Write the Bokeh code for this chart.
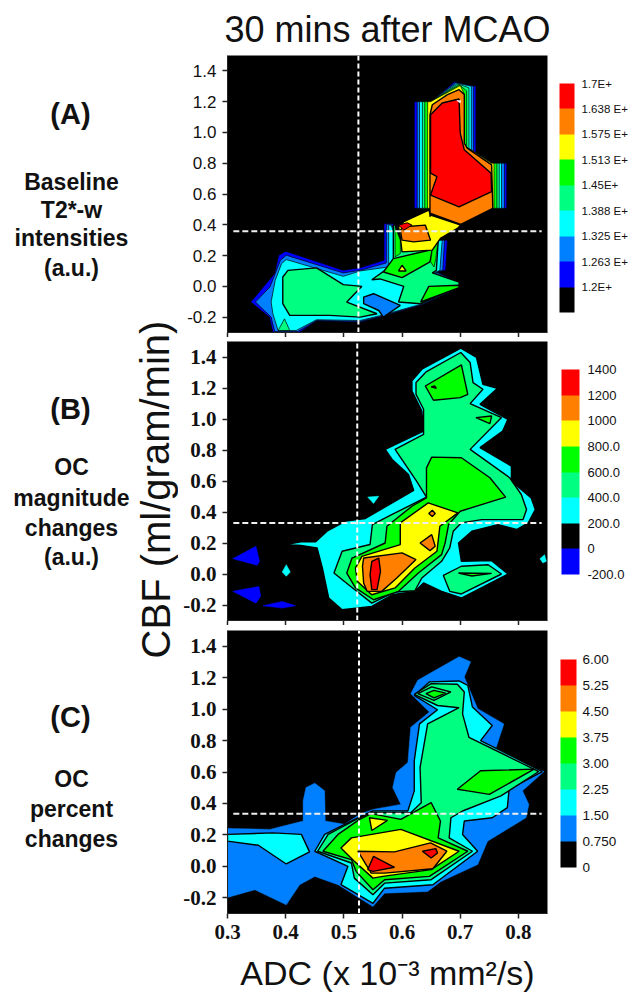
from bokeh.plotting import figure
from bokeh.models import Range1d, Label, ColorBar, LinearColorMapper, FixedTicker, AllLabels, Title
from bokeh.layouts import row, column
from bokeh.embed import file_html
from bokeh.resources import INLINE

BLACK, BLUE, MID, CYAN, SEA, GREEN, YELLOW, ORANGE, RED = (
    "#000000", "#0000ff", "#0080ff", "#00ffff", "#00ff80", "#00ff00", "#ffff00", "#ff8000", "#ff0000")

Y_TICKS = [-0.2, 0.0, 0.2, 0.4, 0.6, 0.8, 1.0, 1.2, 1.4]
X_TICKS = [0.3, 0.4, 0.5, 0.6, 0.7, 0.8]
Y_LABELS = ["-0.2", "0.0", "0.2", "0.4", "0.6", "0.8", "1.0", "1.2", "1.4"]
X_LABELS = ["0.3", "0.4", "0.5", "0.6", "0.7", "0.8"]

CB_A_TICKS = [1.2, 1.2625, 1.325, 1.3875, 1.45, 1.5125, 1.575, 1.6375, 1.7]
CB_A_LABELS = ["1.2E+", "1.263 E+", "1.325 E+", "1.388 E+", "1.45E+", "1.513 E+", "1.575 E+", "1.638 E+", "1.7E+"]
CB_B_TICKS = [-200, 0, 200, 400, 600, 800, 1000, 1200, 1400]
CB_B_LABELS = ["-200.0", "0", "200.0", "400.0", "600.0", "800.0", "1000", "1200", "1400"]
CB_C_TICKS = [0.0, 0.75, 1.5, 2.25, 3.0, 3.75, 4.5, 5.25, 6.0]
CB_C_LABELS = ["0", "0.750", "1.50", "2.25", "3.00", "3.75", "4.50", "5.25", "6.00"]

# ---- Panel A contours (ADC, CBF) ----
A_low_blue = [(.340,-.102),(.381,.083),(.388,.202),(.400,.228),(.499,.104),(.528,.120),(.569,.170),(.569,.409),(.585,.409),(.600,.300),(.678,.300),(.675,.104),(.660,.093),(.698,.028),(.698,-.009),(.632,-.124),(.562,-.200),(.528,-.233),(.453,-.226),(.424,-.298),(.378,-.298),(.372,-.200)]
A_low_mid = [(.348,-.102),(.373,-.004),(.391,.170),(.401,.202),(.499,.087),(.528,.104),(.573,.152),(.573,.404),(.582,.404),(.596,.289),(.673,.300),(.670,.104),(.658,.093),(.698,.024),(.698,-.007),(.632,-.122),(.562,-.196),(.528,-.228),(.453,-.222),(.421,-.293),(.381,-.293),(.375,-.200)]
A_low_cyan = [(.375,-.102),(.382,.039),(.393,.148),(.401,.174),(.499,.065),(.528,.100),(.577,.126),(.577,.398),(.581,.398),(.594,.278),(.669,.300),(.665,.104),(.655,.087),(.698,.020),(.698,-.004),(.632,-.117),(.562,-.191),(.528,-.222),(.453,-.217),(.418,-.287),(.387,-.287),(.378,-.178)]
A_sea_right = [(.548,.043),(.585,.143),(.585,.398),(.588,.398),(.600,.278),(.662,.289),(.659,.104),(.652,.087),(.698,.028),(.698,0),(.632,-.113),(.594,-.102),(.603,0),(.562,.048)]
A_sea_left = [(.395,.061),(.404,.104),(.453,.120),(.499,.011),(.531,0),(.505,-.102),(.557,-.178),(.528,-.2),(.476,-.189),(.407,-.189),(.395,-.113)]
A_sea_foot = [(.387,-.287),(.398,-.211),(.407,-.287)]
A_green_right = [(.632,-.102),(.646,0),(.698,.007),(.698,-.009)]
A_green_mid = [(.568,.093),(.585,.180),(.652,.239),(.648,.159),(.600,.057)]
A_green_strip = [(.588,.387),(.597,.300),(.597,.213),(.588,.192)]
A_green_strip2 = [(.662,.300),(.652,.239),(.649,.159),(.655,.126),(.658,.180)]
A_yellow_dot = [(.594,.100),(.6,.137),(.607,.100)]
A_mid_blob = [(.534,-.07),(.551,-.048),(.597,-.124),(.568,-.2),(.56,-.157),(.534,-.113)]
A_up_blue = [(.621,.507),(.621,1.2),(.649,1.2),(.690,1.33),(.727,1.3),(.727,.865),(.754,.80),(.780,.80),(.780,.507)]
A_up_mid = [(.626,.507),(.626,1.2),(.649,1.2),(.692,1.325),(.723,1.3),(.723,.875),(.754,.80),(.776,.80),(.776,.507)]
A_up_cyan = [(.630,.507),(.630,1.2),(.649,1.2),(.694,1.32),(.719,1.3),(.719,.884),(.754,.80),(.771,.80),(.771,.507)]
A_up_sea = [(.635,.507),(.635,1.2),(.649,1.2),(.696,1.315),(.715,1.29),(.715,.894),(.754,.80),(.767,.80),(.767,.507)]
A_up_green = [(.639,.507),(.639,1.2),(.649,1.2),(.698,1.31),(.711,1.27),(.711,.903),(.754,.80),(.763,.80),(.763,.507)]
A_up_yellow = [(.644,.507),(.644,1.2),(.649,1.2),(.700,1.305),(.707,1.25),(.707,.913),(.754,.80),(.758,.80),(.758,.507)]
A_mid_yellow = [(.603,.420),(.646,.496),(.649,.463),(.701,.398),(.695,.376),(.666,.311),(.652,.235),(.600,.224),(.597,.322),(.594,.387)]
A_mid_orange = [(.597,.365),(.603,.387),(.640,.398),(.649,.300),(.620,.289),(.600,.300)]
A_mid_red = [(.594,.398),(.609,.413),(.617,.398),(.603,.365)]
A_orange = [(.648,.452),(.648,1.115),(.652,1.18),(.678,1.246),(.698,1.278),(.707,1.246),(.707,.93),(.712,.898),(.754,.789),(.756,.507),(.701,.402),(.649,.474)]
A_red = [(.649,.593),(.660,.713),(.649,.735),(.649,1.115),(.669,1.191),(.698,1.217),(.700,.996),(.707,.887),(.753,.735),(.754,.615),(.698,.517)]
A_white = [(.694,1.207),(.701,1.207),(.700,1.191)]
A_LAYERS = [(A_low_blue,BLUE,.7),(A_low_mid,MID,.7),(A_low_cyan,CYAN,.7),(A_sea_right,SEA,1.4),(A_sea_left,SEA,1.4),(A_sea_foot,SEA,.7),
            (A_green_right,GREEN,1.4),(A_green_mid,GREEN,1.4),(A_green_strip,GREEN,.7),(A_green_strip2,GREEN,.7),(A_yellow_dot,YELLOW,1.4),(A_mid_blob,MID,1.4),
            (A_up_blue,BLUE,.7),(A_up_mid,MID,.7),(A_up_cyan,CYAN,.7),(A_up_sea,SEA,.7),(A_up_green,GREEN,.7),(A_up_yellow,YELLOW,.7),
            (A_mid_yellow,YELLOW,1.4),(A_mid_orange,ORANGE,1.4),(A_mid_red,RED,1),(A_orange,ORANGE,1.4),(A_red,RED,1.4),(A_white,"#ffffff",0)]

# ---- Panel B contours ----
B_cyan = [(.4,.19),(.426,.207),(.451,.207),(.471,.276),(.503,.341),(.537,.358),(.583,.459),(.620,.539),(.611,.642),(.583,.739),(.571,.804),(.637,.922),(.634,1.052),(.617,1.181),(.617,1.246),(.634,1.321),(.701,1.457),(.728,1.397),(.739,1.224),(.764,1.198),(.734,1.095),(.782,.998),(.773,.922),(.734,.815),(.788,.696),(.788,.599),(.822,.491),(.829,.416),(.817,.330),(.797,.287),(.765,.319),(.72,.276),(.697,.2),(.702,.082),(.754,.086),(.782,0),(.702,-.155),(.668,-.112),(.637,-.058),(.622,-.112),(.583,-.134),(.548,-.209),(.497,-.231),(.474,-.155),(.463,.039),(.454,.168),(.426,.185)]
B_sea = [(.483,.006),(.497,.147),(.545,.19),(.549,.319),(.583,.384),(.642,.496),(.625,.599),(.588,.804),(.637,.901),(.637,1.063),(.624,1.159),(.624,1.235),(.642,1.306),(.701,1.429),(.717,1.364),(.722,1.235),(.739,1.192),(.717,1.099),(.771,1.009),(.717,.804),(.785,.621),(.805,.513),(.814,.416),(.808,.351),(.737,.351),(.702,.330),(.688,.276),(.682,.168),(.668,.082),(.634,-.026),(.622,-.108),(.588,-.116),(.548,-.188),(.508,-.069)]
B_sea_blob = [(.671,-.009),(.702,.05),(.748,.06),(.771,0),(.702,-.129),(.682,-.112)]
B_green_sliver = [(.697,.006),(.754,.004),(.72,-.013)]
B_green = [(.505,.006),(.514,.103),(.571,.2),(.574,.308),(.617,.437),(.642,.491),(.642,.685),(.651,.754),(.702,.75),(.751,.621),(.778,.496),(.700,.405),(.680,.319),(.674,.200),(.668,.125),(.628,.006),(.594,-.112),(.551,-.166),(.520,-.09)]
B_yellow = [(.520,.039),(.531,.114),(.597,.19),(.597,.33),(.645,.459),(.696,.394),(.665,.308),(.660,.147),(.622,.039),(.588,-.09),(.548,-.134),(.523,-.047)]
B_orange = [(.532,.05),(.534,.103),(.6,.136),(.624,.093),(.591,-.026),(.565,-.112),(.540,-.112),(.534,-.058)]
B_red = [(.548,.082),(.56,.103),(.563,.017),(.557,-.101),(.548,-.101),(.545,-.004)]
B_orange2 = [(.631,.2),(.651,.254),(.657,.179),(.648,.151)]
B_orange3 = [(.646,.39),(.652,.412),(.657,.39),(.652,.371)]
B_green_top = [(.640,1.213),(.702,1.349),(.713,1.159),(.7,1.138),(.654,1.121)]
B_top_dot = [(.650,1.207),(.656,1.213),(.659,1.198)]
B_green_small = [(.727,1.009),(.754,1.019),(.751,.970)]
B_cyan_a = [(.541,.496),(.56,.502),(.551,.455)]
B_cyan_b = [(.394,.013),(.401,.06),(.408,.013),(.401,-.015)]
B_cyan_c = [(.837,.099),(.845,.125),(.848,.082),(.842,.071)]
B_blue_a = [(.309,.099),(.349,.179),(.355,.082),(.351,.056)]
B_blue_b = [(.309,-.112),(.354,-.08),(.357,-.144),(.349,-.188)]
B_blue_c = [(.361,-.205),(.394,-.177),(.417,-.205),(.394,-.22)]
B_LAYERS = [(B_cyan,CYAN,1.4),(B_sea,SEA,1.4),(B_sea_blob,SEA,1.4),(B_green_sliver,GREEN,1.4),(B_green,GREEN,1.4),(B_yellow,YELLOW,1.4),(B_orange,ORANGE,1.4),(B_red,RED,1.4),
            (B_orange2,ORANGE,1.4),(B_orange3,ORANGE,1.4),(B_green_top,GREEN,1.4),(B_top_dot,YELLOW,1.4),(B_green_small,GREEN,1.4),(B_cyan_a,CYAN,0),(B_cyan_b,CYAN,0),(B_cyan_c,CYAN,0),
            (B_blue_a,BLUE,0),(B_blue_b,BLUE,0),(B_blue_c,BLUE,0)]

# ---- Panel C contours ----
C_mid = [(.3,.241),(.373,.235),(.430,.288),(.430,.416),(.435,.501),(.45,.529),(.467,.48),(.468,.288),(.501,.267),(.527,.33),(.55,.362),(.598,.394),(.584,.501),(.59,.597),(.61,.661),(.615,.885),(.647,.981),(.615,1.098),(.627,1.183),(.698,1.333),(.718,1.301),(.707,1.205),(.73,1.002),(.775,.906),(.758,.714),(.844,.603),(.807,.48),(.818,.394),(.813,.309),(.747,.16),(.73,.011),(.667,-.096),(.644,-.16),(.57,-.171),(.55,-.256),(.49,-.117),(.45,-.064),(.424,-.117),(.401,-.245),(.347,-.149),(.3,-.198)]
C_cyan_left = [(.3,.203),(.378,.213),(.427,.203),(.441,.092),(.401,.015),(.353,.134),(.3,.16)]
C_cyan = [(.45,.096),(.467,.203),(.524,.309),(.55,.352),(.61,.352),(.621,.48),(.621,.672),(.63,.906),(.661,.996),(.621,1.087),(.647,1.173),(.698,1.179),(.713,1.151),(.721,1.013),(.755,.896),(.735,.8),(.841,.603),(.784,.49),(.781,.373),(.755,.309),(.707,.288),(.704,.203),(.73,.096),(.653,-.117),(.57,-.139),(.55,-.235),(.495,-.117),(.507,0)]
C_sea = [(.455,.096),(.473,.203),(.527,.309),(.547,.341),(.615,.341),(.633,.405),(.631,.629),(.644,.906),(.698,1.009),(.661,1.023),(.621,1.094),(.65,1.162),(.695,1.158),(.707,1.109),(.704,.97),(.715,.821),(.835,.603),(.77,.448),(.704,.352),(.684,.309),(.681,.181),(.721,.096),(.65,-.085),(.57,-.107),(.55,-.181),(.518,-.075),(.513,.021)]
C_green_top = [(.627,1.098),(.651,1.141),(.684,1.109),(.655,1.055)]
C_green_top2 = [(.641,1.098),(.655,1.119),(.675,1.102),(.655,1.072)]
C_green_right = [(.695,.49),(.735,.608),(.827,.618),(.75,.458),(.713,.48)]
C_green = [(.464,.096),(.49,.203),(.527,.299),(.547,.335),(.598,.299),(.65,.405),(.666,.288),(.662,.181),(.713,.096),(.647,-.064),(.57,-.085),(.55,-.149),(.521,-.032),(.513,.043)]
C_yellow_small = [(.544,.309),(.575,.292),(.548,.228)]
C_yellow = [(.495,.117),(.513,.181),(.598,.235),(.698,.096),(.65,-.021),(.567,-.064),(.55,-.075),(.518,.032)]
C_orange = [(.524,.096),(.587,.092),(.649,.149),(.677,.096),(.653,-.015),(.57,-.043),(.547,-.043)]
C_red = [(.541,-.021),(.551,.064),(.587,-.006),(.55,-.032)]
C_red2 = [(.635,.096),(.658,.113),(.661,.085),(.65,.053)]
C_LAYERS = [(C_mid,MID,0),(C_cyan_left,CYAN,1.4),(C_cyan,CYAN,1.4),(C_sea,SEA,1.4),(C_green_top,SEA,1.4),(C_green_top2,GREEN,1.4),(C_green_right,GREEN,1.4),(C_green,GREEN,1.4),
            (C_yellow_small,YELLOW,1.4),(C_yellow,YELLOW,1.4),(C_orange,ORANGE,1.4),(C_red,RED,1.4),(C_red2,RED,1.4)]

V_LINES = {"A": 0.525, "B": 0.523, "C": 0.526}
H_LINES = {"A": 0.358, "B": 0.329, "C": 0.334}


def panel(layers, vline, hline, fig_h, top, bottom, left, right, tick_font, tick_size, tick_style, palette, low, high,
          cb_ticks, cb_labels, cb_loc, cb_w, cb_h, cb_font, cb_off, show_x):
    p = figure(width=461, height=fig_h, x_range=Range1d(0.3, 0.85), y_range=Range1d(-0.3, 1.5),
               output_backend="svg", toolbar_location=None, background_fill_color="#000000",
               min_border_top=top, min_border_bottom=bottom, min_border_left=left, min_border_right=right,
               border_fill_color="#ffffff", outline_line_color=None)
    p.grid.visible = False
    for pts, col, lw in layers:
        p.patch([q[0] for q in pts], [q[1] for q in pts], fill_color=col,
                line_color="#000000" if lw else col, line_width=lw if lw else 0.5)
    p.line([vline, vline], [-0.3, 1.5], line_color="#ffffff", line_width=2, line_dash="5 3")
    p.line([0.31, 0.84], [hline, hline], line_color="#f0f0f0", line_width=2, line_dash="6 3")

    yax, xax = p.yaxis[0], p.xaxis[0]
    yax.ticker = FixedTicker(ticks=Y_TICKS)
    yax.major_label_overrides = dict(zip(Y_TICKS, Y_LABELS))
    xax.ticker = FixedTicker(ticks=X_TICKS)
    xax.major_label_overrides = dict(zip(X_TICKS, X_LABELS if show_x else [""] * len(X_TICKS)))
    for ax in (xax, yax):
        ax.major_tick_out = 5
        ax.major_tick_in = 0
        ax.minor_tick_line_color = None
        ax.axis_line_color = "#222222"
        ax.major_tick_line_color = "#222222"
        ax.major_tick_line_width = 1.5
        ax.major_label_text_color = "#111111"
        ax.major_label_text_font = tick_font
        ax.major_label_text_font_size = tick_size
        ax.major_label_text_font_style = tick_style
        ax.major_label_standoff = 6
    if not show_x:
        xax.major_label_standoff = 0

    mapper = LinearColorMapper(palette=palette, low=low, high=high)
    cb = ColorBar(color_mapper=mapper, ticker=FixedTicker(ticks=cb_ticks),
                  major_label_overrides=dict(zip(cb_ticks, cb_labels)),
                  major_label_policy=AllLabels(),
                  location=cb_loc, width=cb_w, height=cb_h, margin=0, padding=0,
                  major_tick_line_color=None, minor_tick_line_color=None, bar_line_color=None,
                  border_line_color=None, background_fill_color=None, label_standoff=cb_off,
                  major_label_text_font="Liberation Sans", major_label_text_font_size=cb_font,
                  major_label_text_color="#111111")
    p.add_layout(cb)
    return p


pa = panel(A_LAYERS, V_LINES["A"], H_LINES["A"], 337, 55, 4, 49, 92, "Liberation Sans", "17px", "normal",
           [BLACK, BLUE, MID, CYAN, SEA, GREEN, YELLOW, ORANGE, RED], 1.1375, 1.7,
           CB_A_TICKS, CB_A_LABELS, (332, 20), 15, 229, "11.5px", 7, False)
pb = panel(B_LAYERS, V_LINES["B"], H_LINES["B"], 288, 4, 4, 49, 90, "Liberation Serif", "21px", "bold",
           [BLUE, BLACK, CYAN, SEA, GREEN, YELLOW, ORANGE, RED], -200, 1400,
           CB_B_TICKS, CB_B_LABELS, (334, 46), 18, 205, "13px", 8, False)
pc = panel(C_LAYERS, V_LINES["C"], H_LINES["C"], 371, 5, 83, 48, 91, "Liberation Serif", "21px", "bold",
           [BLACK, MID, CYAN, SEA, GREEN, YELLOW, ORANGE, RED], 0.0, 6.0,
           CB_C_TICKS, CB_C_LABELS, (333, 46), 16, 208, "13.5px", 6, True)

pa.title = Title(text="30 mins after MCAO", align="center", text_font="Liberation Sans", text_font_size="36px",
                 text_font_style="normal", text_color="#111111", standoff=12)
pc.xaxis[0].axis_label = "ADC (x 10\u207b\u00b3 mm\u00b2/s)"
pc.xaxis[0].axis_label_text_font = "Liberation Sans"
pc.xaxis[0].axis_label_text_font_size = "34px"
pc.xaxis[0].axis_label_text_font_style = "normal"
pc.xaxis[0].axis_label_text_color = "#111111"
pc.xaxis[0].axis_label_standoff = 12

side = figure(width=178, height=996, x_range=Range1d(0, 178), y_range=Range1d(996, 0),
              output_backend="svg", toolbar_location=None, min_border=0, outline_line_color=None)
side.axis.visible = False
side.grid.visible = False

HEADINGS = [("(A)", 113), ("(B)", 408), ("(C)", 716)]
NOTES = [("Baseline", 181), ("T2*-w", 209), ("intensities", 237), ("(a.u.)", 267),
         ("OC", 466), ("magnitude", 497), ("changes", 527), ("(a.u.)", 556),
         ("OC", 778), ("percent", 808), ("changes", 838)]
for txt, y in HEADINGS:
    side.add_layout(Label(x=70, y=y, text=txt, text_align="center", text_baseline="middle", text_font="Liberation Sans",
                          text_font_size="29px", text_font_style="bold", text_color="#111111"))
for txt, y in NOTES:
    side.add_layout(Label(x=71, y=y, text=txt, text_align="center", text_baseline="middle", text_font="Liberation Sans",
                          text_font_size="23px", text_font_style="bold", text_color="#111111"))
side.add_layout(Label(x=155, y=489, text="CBF (ml/gram/min)", angle=1.5708, text_align="center", text_baseline="middle",
                      text_font="Liberation Sans", text_font_size="40px", text_color="#111111"))

page = row(side, column(pa, pb, pc))
open("out.html", "w").write(file_html(page, INLINE))
